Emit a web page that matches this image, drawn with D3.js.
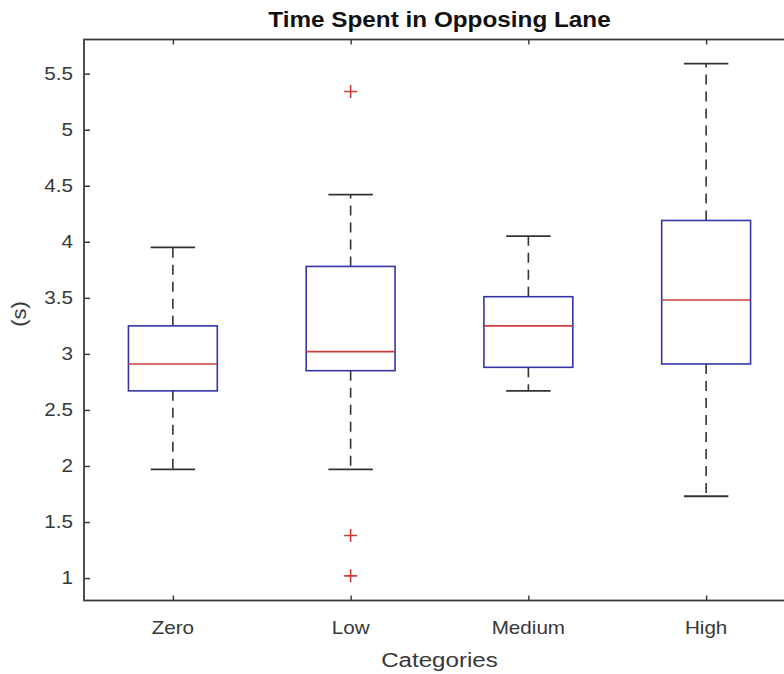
<!DOCTYPE html>
<html>
<head>
<meta charset="utf-8">
<script src="https://cdn.jsdelivr.net/npm/d3@7"></script>
<style>
  html, body { margin: 0; padding: 0; background: #fff; }
  svg { display: block; }
</style>
</head>
<body>
<svg id="chart" width="784" height="674"></svg>
<script>
// ---- data ----
const categories   = ["Zero", "Low", "Medium", "High"];
const q1           = [2.67, 2.85, 2.88, 2.91];
const medians      = [2.91, 3.02, 3.25, 3.48];
const q3           = [3.25, 3.78, 3.51, 4.19];
const whiskerLow   = [1.97, 1.97, 2.67, 1.73];
const whiskerHigh  = [3.95, 4.42, 4.05, 5.59];
const outlierCat   = ["Low", "Low", "Low"];
const outlierVal   = [5.34, 1.38, 1.02];
const yTicks       = [1, 1.5, 2, 2.5, 3, 3.5, 4, 4.5, 5, 5.5];
const yTickLabels  = ["1", "1.5", "2", "2.5", "3", "3.5", "4", "4.5", "5", "5.5"];
const titleText    = "Time Spent in Opposing Lane";
const xLabelText   = "Categories";
const yLabelText   = "(s)";

// ---- layout ----
const svg = d3.select("#chart");
const pLeft = 84, pRight = 795, pTop = 39.5, pBottom = 600.5;
const x = d3.scaleLinear().domain([0.5, categories.length + 0.5]).range([pLeft, pRight]);
const y = d3.scaleLinear().domain([0.8, 5.8]).range([pBottom, 40]);
const pos = c => x(categories.indexOf(c) + 1);

const axisColor = "#3c3c3c";
const textColor = "#383838";
const boxColor = "#3434a8";
const medColor = "#cc3b3b";
const whiskColor = "#333333";
const font = "Liberation Sans, Arial, Helvetica, sans-serif";

function stretchedText(g, tx, ty, str, size, sx, anchor, weight, rotate) {
  return g.append("text")
    .attr("transform", `translate(${tx},${ty})` + (rotate ? ` rotate(${rotate})` : "") + ` scale(${sx},1)`)
    .attr("text-anchor", anchor)
    .attr("font-family", font)
    .attr("font-size", size)
    .attr("font-weight", weight || "normal")
    .attr("fill", textColor)
    .text(str);
}

// ---- boxes ----
const boxW = x(1.25) - x(1);     // half of 0.5 width
const capW = x(1.125) - x(1);    // half of 0.25 cap width
const marks = svg.append("g");

categories.forEach((c, i) => {
  const cx = pos(c);
  marks.append("line")
    .attr("x1", cx).attr("x2", cx)
    .attr("y1", y(q3[i])).attr("y2", y(whiskerHigh[i]))
    .attr("stroke", whiskColor).attr("stroke-width", 1.6)
    .attr("stroke-dasharray", "10,7");
  marks.append("line")
    .attr("x1", cx).attr("x2", cx)
    .attr("y1", y(q1[i])).attr("y2", y(whiskerLow[i]))
    .attr("stroke", whiskColor).attr("stroke-width", 1.6)
    .attr("stroke-dasharray", "10,7");
  [whiskerHigh[i], whiskerLow[i]].forEach(v => {
    marks.append("line")
      .attr("x1", cx - capW).attr("x2", cx + capW)
      .attr("y1", y(v)).attr("y2", y(v))
      .attr("stroke", whiskColor).attr("stroke-width", 1.8);
  });
  marks.append("rect")
    .attr("x", cx - boxW).attr("width", 2 * boxW)
    .attr("y", y(q3[i])).attr("height", y(q1[i]) - y(q3[i]))
    .attr("fill", "none").attr("stroke", boxColor).attr("stroke-width", 1.6);
  marks.append("line")
    .attr("x1", cx - boxW).attr("x2", cx + boxW)
    .attr("y1", y(medians[i])).attr("y2", y(medians[i]))
    .attr("stroke", medColor).attr("stroke-width", 1.6);
});

outlierVal.forEach((v, k) => {
  const cx = pos(outlierCat[k]), cy = y(v), r = 6.5;
  marks.append("path")
    .attr("d", `M${cx - r},${cy}H${cx + r}M${cx},${cy - r}V${cy + r}`)
    .attr("stroke", medColor).attr("stroke-width", 1.6).attr("fill", "none");
});

// ---- axes ----
const axes = svg.append("g");
axes.append("rect")
  .attr("x", pLeft).attr("y", pTop).attr("width", pRight - pLeft).attr("height", pBottom - pTop)
  .attr("fill", "none").attr("stroke", axisColor).attr("stroke-width", 1.8);

const styleTicks = g => {
  g.select(".domain").remove();
  g.selectAll("line").attr("stroke", axisColor).attr("stroke-width", 1.5);
};
axes.append("g").attr("transform", `translate(${pLeft},0)`)
  .call(d3.axisRight(y).tickValues(yTicks).tickSize(6).tickFormat("")).call(styleTicks);
axes.append("g").attr("transform", `translate(${pRight},0)`)
  .call(d3.axisLeft(y).tickValues(yTicks).tickSize(6).tickFormat("")).call(styleTicks);

const xTickVals = categories.map((c, i) => i + 1);
axes.append("g").attr("transform", `translate(0,${pBottom})`)
  .call(d3.axisTop(x).tickValues(xTickVals).tickSize(5).tickFormat("")).call(styleTicks);
axes.append("g").attr("transform", `translate(0,${pTop})`)
  .call(d3.axisBottom(x).tickValues(xTickVals).tickSize(5).tickFormat("")).call(styleTicks);

// tick labels
const labels = svg.append("g");
yTicks.forEach((v, i) => {
  stretchedText(labels, pLeft - 11, y(v) + 6.2, yTickLabels[i], 17.5, 1.18, "end");
});
categories.forEach((c, i) => {
  stretchedText(labels, x(i + 1), 633.5, c, 17.5, 1.18, "middle");
});

// titles
stretchedText(labels, (pLeft + pRight) / 2, 26.5, titleText, 21.5, 1.13, "middle", "bold")
  .attr("fill", "#111");
stretchedText(labels, (pLeft + pRight) / 2, 667, xLabelText, 21, 1.15, "middle");
stretchedText(labels, 26, 314, yLabelText, 20, 1.1, "middle", "normal", -90);
</script>
</body>
</html>
